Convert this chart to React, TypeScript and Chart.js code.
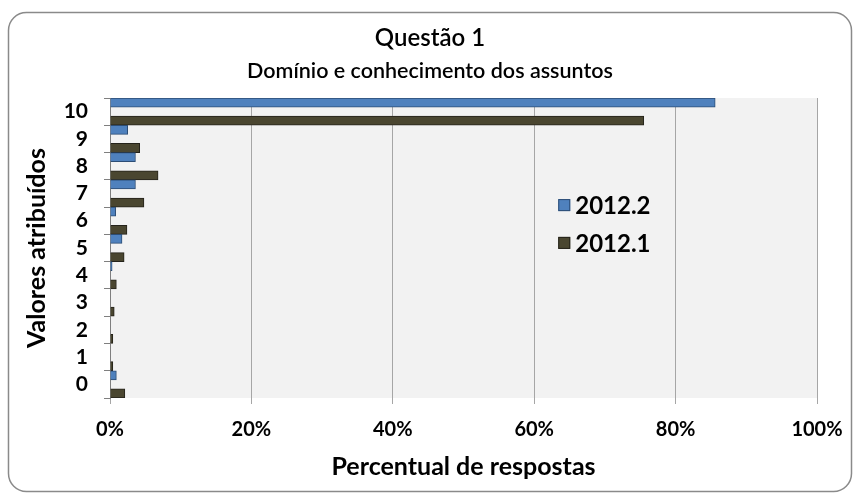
import React, { useEffect, useRef } from "react";
import { Chart, registerables } from "chart.js";

Chart.register(...registerables);

const categories = ["10", "9", "8", "7", "6", "5", "4", "3", "2", "1", "0"];
const series20122 = [85.6, 2.5, 3.6, 3.6, 0.8, 1.7, 0.3, 0, 0, 0, 0.9];
const series20121 = [75.5, 4.2, 6.8, 4.8, 2.4, 2.0, 0.9, 0.6, 0.4, 0.4, 2.1];
const seriesLabels = ["2012.2", "2012.1"];
const titleLines = ["Questão 1", "Domínio e conhecimento dos assuntos"];
const xAxisTitle = "Percentual de respostas";
const yAxisTitle = "Valores atribuídos";

const FONT = "Lato, 'Open Sans', sans-serif";
const BLUE = "#4f81bd";
const BLUE_BORDER = "#2c4d75";
const DARK = "#4a4630";
const DARK_BORDER = "#24221a";

const framePlugin = {
  id: "frame",
  beforeDraw(chart: any) {
    const { ctx, width, height, chartArea } = chart;
    ctx.save();
    ctx.fillStyle = "#ffffff";
    ctx.fillRect(0, 0, width, height);
    const x = 8.5, y = 12.5, w = width - 17, h = height - 16, r = 18;
    ctx.beginPath();
    ctx.moveTo(x + r, y);
    ctx.arcTo(x + w, y, x + w, y + h, r);
    ctx.arcTo(x + w, y + h, x, y + h, r);
    ctx.arcTo(x, y + h, x, y, r);
    ctx.arcTo(x, y, x + w, y, r);
    ctx.closePath();
    ctx.strokeStyle = "#8a8a8a";
    ctx.lineWidth = 1.5;
    ctx.stroke();
    ctx.fillStyle = "#f2f2f2";
    ctx.fillRect(chartArea.left, chartArea.top, chartArea.right - chartArea.left, chartArea.bottom - chartArea.top);
    ctx.fillStyle = "#000000";
    ctx.textAlign = "center";
    ctx.textBaseline = "middle";
    ctx.font = `600 24px ${FONT}`;
    ctx.fillText(titleLines[0], width / 2, 38);
    ctx.font = `600 21.5px ${FONT}`;
    ctx.fillText(titleLines[1], width / 2, 71);
    ctx.restore();
  },
  afterDatasetsDraw(chart: any) {
    const { ctx, chartArea } = chart;
    const w = chartArea.right - chartArea.left;
    const h = chartArea.bottom - chartArea.top;
    const items = [
      { label: seriesLabels[0], fill: BLUE, border: BLUE_BORDER, fy: 0.357 },
      { label: seriesLabels[1], fill: DARK, border: DARK_BORDER, fy: 0.483 },
    ];
    ctx.save();
    ctx.font = `bold 24px ${FONT}`;
    ctx.textAlign = "left";
    ctx.textBaseline = "middle";
    items.forEach((it) => {
      const x = chartArea.left + 0.634 * w;
      const y = chartArea.top + it.fy * h;
      ctx.fillStyle = it.fill;
      ctx.fillRect(x, y - 6, 12, 12);
      ctx.strokeStyle = it.border;
      ctx.lineWidth = 1;
      ctx.strokeRect(x + 0.5, y - 5.5, 11, 11);
      ctx.fillStyle = "#000000";
      ctx.fillText(it.label, x + 17, y + 1);
    });
    ctx.restore();
  },
};

export default function App() {
  const canvasRef = useRef<HTMLCanvasElement | null>(null);

  useEffect(() => {
    document.body.style.margin = "0";
    const canvas = canvasRef.current;
    if (!canvas) return;
    const chart = new Chart(canvas, {
      type: "bar",
      data: {
        labels: categories,
        datasets: [
          {
            label: seriesLabels[0],
            data: series20122,
            backgroundColor: BLUE,
            borderColor: BLUE_BORDER,
            borderWidth: 1,
          },
          {
            label: "",
            data: categories.map(() => null),
            backgroundColor: "rgba(0,0,0,0)",
            borderWidth: 0,
          },
          {
            label: seriesLabels[1],
            data: series20121,
            backgroundColor: DARK,
            borderColor: DARK_BORDER,
            borderWidth: 1,
          },
        ],
      },
      options: {
        indexAxis: "y",
        responsive: false,
        animation: false,
        maintainAspectRatio: false,
        datasets: { bar: { categoryPercentage: 1, barPercentage: 1 } },
        layout: { padding: { top: 98, right: 43, left: 8, bottom: 0 } },
        plugins: {
          legend: { display: false },
          title: { display: false },
          tooltip: { enabled: false },
        },
        scales: {
          x: {
            min: 0,
            max: 100,
            ticks: {
              stepSize: 20,
              callback: (v: any) => `${v}%`,
              color: "#000000",
              font: { family: FONT, size: 20, weight: "bold" },
              padding: 14,
              maxRotation: 0,
            },
            grid: { color: "#a6a6a6", tickLength: 6, lineWidth: 1 },
            border: { display: false },
            title: {
              display: true,
              text: xAxisTitle,
              color: "#000000",
              font: { family: FONT, size: 25, weight: "bold" },
              padding: { top: 0, bottom: 13 },
            },
            afterFit: (scale: any) => {
              scale.height = 97;
            },
          },
          y: {
            ticks: {
              color: "#000000",
              font: { family: FONT, size: 21, weight: "bold" },
              padding: 16,
              autoSkip: false,
            },
            grid: { drawOnChartArea: false, tickLength: 6, color: "#7f7f7f", offset: true },
            border: { display: true, color: "#7f7f7f", width: 1 },
            title: {
              display: true,
              text: yAxisTitle,
              color: "#000000",
              font: { family: FONT, size: 25, weight: "bold" },
              padding: { top: 14, bottom: 0 },
            },
            afterFit: (scale: any) => {
              scale.width = 102;
            },
          },
        },
      },
      plugins: [framePlugin],
    } as any);
    return () => chart.destroy();
  }, []);

  return (
    <div style={{ width: 860, height: 495 }}>
      <canvas ref={canvasRef} width={860} height={495} style={{ display: "block", width: 860, height: 495 }} />
    </div>
  );
}
